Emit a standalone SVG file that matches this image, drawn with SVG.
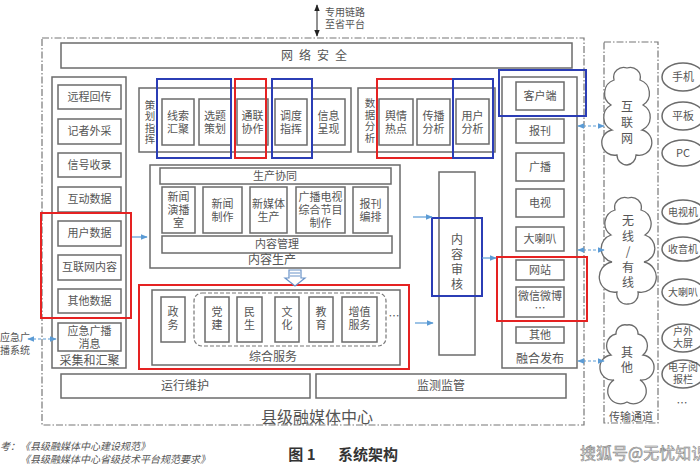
<svg xmlns="http://www.w3.org/2000/svg" width="700" height="470" viewBox="0 0 700 470">
<style>
.b{fill:#fff;stroke:#6b6b6b;stroke-width:1.5}
.t{font-family:"Noto Sans CJK SC","Noto Sans",sans-serif;font-size:11px;fill:#555;text-anchor:middle}
.l{font-size:12px}
.v{font-size:10.5px}
.red{fill:none;stroke:#e52222;stroke-width:2}
.blue{fill:none;stroke:#2b3db5;stroke-width:2}
.dd{fill:none;stroke:#777;stroke-width:1.2;stroke-dasharray:7 2 1.5 2}
.arr{stroke:#5b9bd5;stroke-width:1.2;fill:none}
.dash{stroke-dasharray:3 2}
.cloud{fill:#fff;stroke:#6b6b6b;stroke-width:1.3}
</style>
<defs>
<marker id="ah" viewBox="0 0 10 10" refX="9" refY="5" markerWidth="6" markerHeight="6" orient="auto-start-reverse">
<path d="M0,1 L10,5 L0,9 Z" fill="#5b9bd5"/>
</marker>
<marker id="bk" viewBox="0 0 10 10" refX="9" refY="5" markerWidth="7" markerHeight="7" orient="auto-start-reverse">
<path d="M0,1 L10,5 L0,9 Z" fill="#222"/>
</marker>
</defs>
<rect width="700" height="470" fill="#fff"/>

<g id="frame">
<rect class="dd" x="42" y="38" width="542" height="387"/>
<text class="t" x="317" y="423" style="font-size:16px">县级融媒体中心</text>
<rect class="dd" x="604" y="42" width="54" height="381"/>
<text class="t" x="631" y="421" style="font-size:11px">传输通道</text>
</g>

<g id="top-link">
<line x1="317" y1="5" x2="317" y2="36" stroke="#222" stroke-width="1" marker-start="url(#bk)" marker-end="url(#bk)"/>
<text class="t" x="345" y="16" style="font-size:10px">专用链路<tspan x="345" dy="12">至省平台</tspan></text>
</g>

<g id="security">
<rect class="b" x="61" y="43" width="511" height="25"/>
<text class="t l" x="317" y="60" style="letter-spacing:6px">网络安全</text>
</g>

<g id="collect">
<rect class="b" x="52" y="77" width="74" height="291"/>
<rect class="b" x="58" y="85" width="63" height="24"/><text class="t" x="89.5" y="101">远程回传</text>
<rect class="b" x="58" y="119" width="63" height="25"/><text class="t" x="89.5" y="135">记者外采</text>
<rect class="b" x="58" y="153" width="63" height="24"/><text class="t" x="89.5" y="169">信号收录</text>
<rect class="b" x="58" y="187" width="63" height="25"/><text class="t" x="89.5" y="203">互动数据</text>
<rect class="b" x="58" y="221" width="63" height="25"/><text class="t" x="89.5" y="237">用户数据</text>
<rect class="b" x="58" y="255" width="63" height="25"/><text class="t" x="89.5" y="271">互联网内容</text>
<rect class="b" x="58" y="289" width="63" height="24"/><text class="t" x="89.5" y="305">其他数据</text>
<rect class="b" x="58" y="323" width="63" height="28"/><text class="t" x="89.5" y="335">应急广播<tspan x="89.5" dy="13">消息</tspan></text>
<text class="t l" x="89.5" y="365">采集和汇聚</text>
</g>

<g id="planning">
<rect class="b" x="139" y="88" width="212" height="64"/>
<text class="t v" x="150" y="109">策<tspan x="150" dy="11.3">划</tspan><tspan x="150" dy="11.3">指</tspan><tspan x="150" dy="11.3">挥</tspan></text>
<rect class="b" x="162" y="99" width="32" height="46"/><text class="t" x="178" y="120">线索<tspan x="178" dy="13">汇聚</tspan></text>
<rect class="b" x="199" y="99" width="32" height="46"/><text class="t" x="215" y="120">选题<tspan x="215" dy="13">策划</tspan></text>
<rect class="b" x="237" y="99" width="31" height="46"/><text class="t" x="252.5" y="120">通联<tspan x="252.5" dy="13">协作</tspan></text>
<rect class="b" x="275" y="99" width="32" height="46"/><text class="t" x="291" y="120">调度<tspan x="291" dy="13">指挥</tspan></text>
<rect class="b" x="312" y="99" width="33" height="46"/><text class="t" x="328.5" y="120">信息<tspan x="328.5" dy="13">呈现</tspan></text>
</g>

<g id="analysis">
<rect class="b" x="358" y="88" width="137" height="64"/>
<text class="t v" x="370" y="107">数<tspan x="370" dy="11.5">据</tspan><tspan x="370" dy="11.5">分</tspan><tspan x="370" dy="11.5">析</tspan></text>
<rect class="b" x="379" y="99" width="34" height="46"/><text class="t" x="396" y="120">舆情<tspan x="396" dy="13">热点</tspan></text>
<rect class="b" x="417" y="99" width="33" height="46"/><text class="t" x="433.5" y="120">传播<tspan x="433.5" dy="13">分析</tspan></text>
<rect class="b" x="456" y="99" width="33" height="45"/><text class="t" x="472.5" y="120">用户<tspan x="472.5" dy="13">分析</tspan></text>
</g>

<g id="production">
<rect class="b" x="150" y="165" width="250" height="103"/>
<rect class="b" x="160" y="168" width="231" height="16"/><text class="t" x="275" y="180">生产协同</text>
<rect class="b" x="162" y="187" width="33" height="46"/><text class="t" x="178.5" y="201">新闻<tspan x="178.5" dy="13">演播</tspan><tspan x="178.5" dy="13">室</tspan></text>
<rect class="b" x="203" y="187" width="39" height="46"/><text class="t" x="222.5" y="208">新闻<tspan x="222.5" dy="13">制作</tspan></text>
<rect class="b" x="250" y="187" width="37" height="46"/><text class="t" x="268.5" y="208">新媒体<tspan x="268.5" dy="13">生产</tspan></text>
<rect class="b" x="296" y="187" width="49" height="46"/><text class="t" x="320.5" y="201">广播电视<tspan x="320.5" dy="13">综合节目</tspan><tspan x="320.5" dy="13">制作</tspan></text>
<rect class="b" x="353" y="187" width="35" height="46"/><text class="t" x="370.5" y="208">报刊<tspan x="370.5" dy="13">编排</tspan></text>
<rect class="b" x="162" y="236" width="230" height="17"/><text class="t" x="277" y="248">内容管理</text>
<text class="t l" x="272" y="264">内容生产</text>
</g>

<g id="service">
<rect class="b" x="152" y="290" width="248" height="75"/>
<rect x="194" y="293" width="192" height="53" rx="8" fill="none" stroke="#777" stroke-width="1.2" stroke-dasharray="4 2"/>
<rect class="b" x="161" y="297" width="24" height="45"/><text class="t" x="173" y="316">政<tspan x="173" dy="13">务</tspan></text>
<rect class="b" x="205" y="297" width="24" height="45"/><text class="t" x="217" y="316">党<tspan x="217" dy="13">建</tspan></text>
<rect class="b" x="237" y="297" width="25" height="45"/><text class="t" x="249.5" y="316">民<tspan x="249.5" dy="13">生</tspan></text>
<rect class="b" x="275" y="297" width="24" height="45"/><text class="t" x="287" y="316">文<tspan x="287" dy="13">化</tspan></text>
<rect class="b" x="309" y="297" width="24" height="45"/><text class="t" x="321" y="316">教<tspan x="321" dy="13">育</tspan></text>
<rect class="b" x="342" y="297" width="35" height="45"/><text class="t" x="359.5" y="316">增值<tspan x="359.5" dy="13">服务</tspan></text>
<text class="t" x="394" y="320">…</text>
<text class="t l" x="273" y="361">综合服务</text>
</g>

<g id="review">
<rect class="b" x="439" y="172" width="36" height="183"/>
<text class="t l" x="457" y="244">内<tspan x="457" dy="15">容</tspan><tspan x="457" dy="15">审</tspan><tspan x="457" dy="15">核</tspan></text>
</g>

<g id="publish">
<rect class="b" x="502" y="77" width="75" height="291"/>
<rect class="b" x="516" y="82" width="48" height="28"/><text class="t" x="540" y="100">客户端</text>
<rect class="b" x="516" y="119" width="48" height="24"/><text class="t" x="540" y="135">报刊</text>
<rect class="b" x="516" y="153" width="48" height="28"/><text class="t" x="540" y="171">广播</text>
<rect class="b" x="516" y="189" width="48" height="28"/><text class="t" x="540" y="207">电视</text>
<rect class="b" x="516" y="227" width="48" height="24"/><text class="t" x="540" y="243">大喇叭</text>
<rect class="b" x="516" y="260" width="48" height="20"/><text class="t" x="540" y="274">网站</text>
<rect class="b" x="516" y="287" width="48" height="30"/><text class="t" x="540" y="300">微信微博<tspan x="540" dy="12">…</tspan></text>
<rect class="b" x="516" y="327" width="48" height="16"/><text class="t" x="540" y="339">其他</text>
<text class="t l" x="540" y="363">融合发布</text>
</g>

<g id="ops">
<rect class="b" x="61" y="374" width="249" height="24"/><text class="t l" x="185" y="390">运行维护</text>
<rect class="b" x="316" y="374" width="250" height="24"/><text class="t l" x="441" y="390">监测监管</text>
</g>

<g id="cloud-internet">
<path class="cloud" d="M627,68 A10,10 0 0 1 640,80 A14,14 0 0 1 643,105 A14,14 0 0 1 642,130 A12,12 0 0 1 636,155 A10,10 0 0 1 627,165 A10,10 0 0 1 617,155 A12,12 0 0 1 612,130 A14,14 0 0 1 611,105 A14,14 0 0 1 614,80 A10,10 0 0 1 627,68 Z"/>
<text class="t l" x="627" y="111">互<tspan x="627" dy="16">联</tspan><tspan x="627" dy="16">网</tspan></text>
</g>
<g id="cloud-wireless">
<path class="cloud" d="M628,198 A10,10 0 0 1 641,210 A14,14 0 0 1 645,235 A14,14 0 0 1 644,262 A13,13 0 0 1 638,292 A10,10 0 0 1 628,304 A10,10 0 0 1 617,292 A13,13 0 0 1 612,262 A14,14 0 0 1 611,235 A14,14 0 0 1 615,210 A10,10 0 0 1 628,198 Z"/>
<text class="t l" x="628" y="225">无<tspan x="628" dy="15.5">线</tspan><tspan x="628" dy="15.5">/</tspan><tspan x="628" dy="15.5">有</tspan><tspan x="628" dy="15.5">线</tspan></text>
</g>
<g id="cloud-other">
<path class="cloud" d="M627,325 A9,9 0 0 1 638,334 A12,12 0 0 1 643,355 A12,12 0 0 1 640,380 A10,10 0 0 1 627,402 A10,10 0 0 1 614,380 A12,12 0 0 1 611,355 A12,12 0 0 1 616,334 A9,9 0 0 1 627,325 Z"/>
<text class="t l" x="627" y="357">其<tspan x="627" dy="15">他</tspan></text>
</g>

<g id="terminals">
<ellipse class="b" cx="683" cy="77" rx="21" ry="14"/><text class="t" x="683" y="81">手机</text>
<ellipse class="b" cx="683" cy="116" rx="21" ry="14"/><text class="t" x="683" y="120">平板</text>
<ellipse class="b" cx="683" cy="153" rx="21" ry="13"/><text class="t" x="683" y="157">PC</text>
<ellipse class="b" cx="683" cy="212" rx="21" ry="12"/><text class="t" x="683" y="216" style="font-size:10px">电视机</text>
<ellipse class="b" cx="683" cy="249" rx="21" ry="12"/><text class="t" x="683" y="253" style="font-size:10px">收音机</text>
<ellipse class="b" cx="683" cy="292" rx="21" ry="13"/><text class="t" x="683" y="296" style="font-size:10px">大喇叭</text>
<ellipse class="b" cx="683" cy="338" rx="21" ry="14"/><text class="t" x="683" y="335" style="font-size:10px">户外<tspan x="683" dy="12">大屏</tspan></text>
<ellipse class="b" cx="683" cy="374" rx="21" ry="14"/><text class="t" x="683" y="371" style="font-size:10px">电子阅<tspan x="683" dy="12">报栏</tspan></text>
<text class="t" x="682" y="407">…</text>
</g>

<g id="highlights">
<rect class="red" x="41" y="213" width="90" height="105"/>
<rect class="blue" x="157" y="79" width="74" height="79"/>
<rect class="red" x="235" y="79" width="31" height="79"/>
<rect class="blue" x="272" y="79" width="40" height="79"/>
<rect class="red" x="377" y="79" width="76" height="79"/>
<rect class="blue" x="453" y="79" width="40" height="79"/>
<rect class="blue" x="499" y="70" width="87" height="46"/>
<rect class="red" x="497" y="257" width="90" height="64"/>
<rect class="red" x="139" y="285" width="270" height="84"/>
<rect class="blue" x="432" y="218" width="50" height="78"/>
</g>

<g id="connectors">
<line class="arr" x1="132" y1="237" x2="147" y2="237" marker-end="url(#ah)"/>
<line class="arr" x1="413" y1="217" x2="432" y2="217" marker-end="url(#ah)"/>
<line class="arr" x1="415" y1="323" x2="433" y2="323" marker-end="url(#ah)"/>
<line class="arr" x1="482" y1="258" x2="496" y2="258" marker-end="url(#ah)"/>
<line class="arr dash" x1="578" y1="126" x2="604" y2="126" marker-start="url(#ah)" marker-end="url(#ah)"/>
<line class="arr dash" x1="578" y1="250" x2="604" y2="250" marker-start="url(#ah)" marker-end="url(#ah)"/>
<line class="arr dash" x1="578" y1="361" x2="604" y2="361" marker-start="url(#ah)" marker-end="url(#ah)"/>
<line class="arr dash" x1="28" y1="339" x2="56" y2="339" marker-start="url(#ah)" marker-end="url(#ah)"/>
<path d="M289,270 H301 V278 H305 L295,286 L285,278 H289 Z" fill="#fff" stroke="#6a93c8" stroke-width="1.2"/>
<line x1="290" y1="273" x2="300" y2="273" stroke="#6a93c8" stroke-width="1"/>
<line x1="290" y1="276" x2="300" y2="276" stroke="#6a93c8" stroke-width="1"/>
</g>

<g id="notes">
<text class="t" x="0" y="341" style="text-anchor:start;font-size:10px">应急广<tspan x="0" dy="13">播系统</tspan></text>
<text class="t" x="0" y="450" style="text-anchor:start;font-size:10px;font-style:italic">考：</text>
<text class="t" x="20" y="450" style="text-anchor:start;font-size:10px;font-style:italic">《县级融媒体中心建设规范》<tspan x="20" dy="13">《县级融媒体中心省级技术平台规范要求》</tspan></text>
<text class="t" x="302" y="460" style="font-size:15px;font-weight:bold;fill:#333">图 1</text>
<text class="t" x="368" y="460" style="font-size:15px;font-weight:bold;fill:#333">系统架构</text>
<text class="t" x="580" y="459" style="text-anchor:start;font-size:16px;fill:#e4e4e4;stroke:#777;stroke-width:0.5">搜狐号@无忧知识</text>
</g>
</svg>
